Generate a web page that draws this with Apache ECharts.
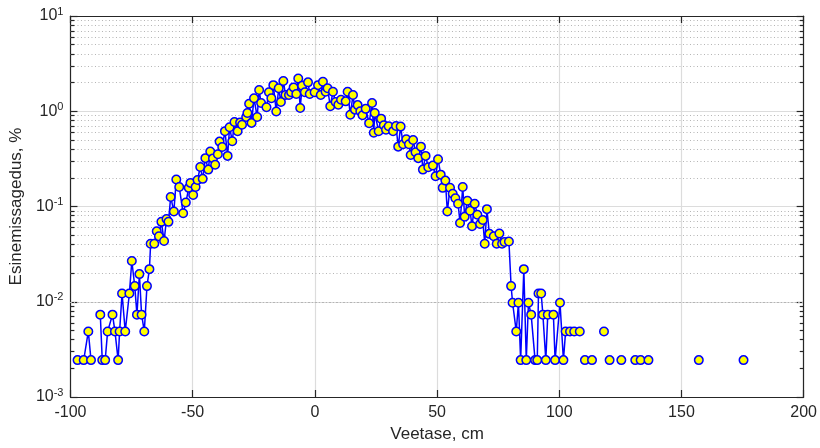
<!DOCTYPE html>
<html>
<head>
<meta charset="utf-8">
<script src="https://cdn.jsdelivr.net/npm/echarts@6/dist/echarts.min.js"></script>
<style>
  html, body { margin: 0; padding: 0; background: #fff; }
  #chart { width: 820px; height: 448px; }
</style>
</head>
<body>
<div id="chart"></div>
<script>
// water level bins (cm) and occurrence (%); null = empty bin, line breaks there
var levels = [
  -97.1, -94.6, -92.7, -91.6, -89.7, -87.8, -87.0, -85.8, -84.8, -82.8,
  -81.8, -80.5, -79.9, -78.9, -77.6, -75.9, -74.9, -73.7, -72.8, -71.8,
  -70.9, -69.8, -68.7, -67.7, -67.2, -65.7, -64.7, -63.8, -62.8, -61.7,
  -60.7, -59.9, -59.0, -57.7, -56.7, -55.5, -53.9, -52.8, -51.6, -50.9,
  -49.8, -48.8, -48.0, -46.9, -45.9, -44.8, -43.6, -42.8, -41.7, -40.8,
  -39.7, -39.0, -37.9, -36.8, -35.7, -34.9, -33.8, -32.9, -31.6, -30.6,
  -29.8, -28.1, -27.6, -26.9, -25.9, -24.9, -23.6, -22.8, -22.0, -19.8,
  -18.8, -17.8, -17.0, -15.8, -14.8, -13.9, -12.9, -12.0, -10.6, -9.7,
  -8.7, -7.6, -6.8, -6.0, -5.2, -4.1, -2.8, -2.1, -0.1, 1.3,
  2.4, 3.3, 4.4, 5.2, 6.3, 7.4, 8.5, 9.6, 10.7, 12.6,
  13.4, 14.5, 15.6, 16.4, 17.5, 18.6, 19.5, 20.8, 22.2, 23.4,
  24.1, 24.5, 26.1, 27.1, 28.2, 29.1, 30.2, 32.0, 33.2, 34.1,
  35.1, 36.1, 37.4, 38.5, 39.2, 40.2, 41.2, 42.3, 43.4, 44.2,
  45.3, 46.4, 48.3, 49.4, 50.4, 51.5, 52.3, 53.4, 54.2, 55.3,
  56.4, 57.5, 58.6, 59.4, 60.5, 61.3, 62.4, 63.5, 64.3, 65.4,
  66.5, 67.6, 68.7, 69.5, 70.4, 71.4, 73.2, 74.4, 75.5, 76.6,
  77.6, 79.4, 80.3, 80.9, 82.4, 83.3, 84.2, 85.5, 86.5, 87.4,
  88.5, 90.1, 91.0, 91.5, 92.6, 93.3, 94.5, 95.3, 97.6, 98.3,
  100.3, 101.7, 102.6, 104.4, 106.1, 108.4, 109.5, 110.5, 112.0, 113.4,
  116.0, 118.3, 119.5, 120.6, 123.0, 125.4, 128.0, 131.1, 132.2, 133.3,
  135.0, 136.5, 145.0, 157.1, 165.0, 175.4
];
var occurrence = [
  0.00244, 0.00244, 0.00488, 0.00244, null, 0.00732, 0.00244, 0.00244, 0.00488, 0.00732,
  0.00488, 0.00244, 0.00488, 0.0122, 0.00488, 0.0122, 0.0268, 0.0146, 0.00732, 0.0195,
  0.00732, 0.00488, 0.0146, 0.022, 0.0407, 0.0407, 0.055, 0.0488, 0.069, 0.0434,
  0.0738, 0.069, 0.126, 0.0888, 0.192, 0.16, 0.085, 0.11, 0.157, 0.177,
  0.132, 0.16, 0.19, 0.26, 0.195, 0.322, 0.244, 0.378, 0.32, 0.274,
  0.354, 0.48, 0.422, 0.618, 0.34, 0.68, 0.485, 0.77, 0.618, 0.76,
  0.72, 0.87, 0.96, 1.2, 0.755, 1.37, 0.87, 1.67, 1.22, 1.1,
  1.58, 1.37, 1.88, 0.995, 1.74, 1.25, 2.08, 1.48, 1.48, 1.58,
  1.78, 1.52, 2.21, 1.08, 1.85, 1.58, 2.01, 1.52, 1.58, 1.88,
  1.48, 2.04, 1.6, 1.74, 1.13, 1.6, 1.25, 1.17, 1.32, 1.27,
  1.6, 0.92, 1.48, 1.04, 1.16, 1.0, 0.906, 1.06, 0.75, 1.22,
  0.594, 0.957, 0.617, 0.836, 0.713, 0.64, 0.695, 0.618, 0.7, 0.425,
  0.69, 0.45, 0.507, 0.45, 0.348, 0.5, 0.371, 0.322, 0.425, 0.244,
  0.34, 0.258, 0.27, 0.208, 0.314, 0.216, 0.157, 0.187, 0.0888, 0.157,
  0.136, 0.122, 0.107, 0.0671, 0.16, 0.078, 0.115, 0.0902, 0.062, 0.107,
  0.082, 0.0656, 0.072, 0.0407, 0.0938, 0.0516, 0.0488, 0.0407, 0.052, 0.0407,
  0.0424, 0.043, 0.0146, 0.00976, 0.00488, 0.00976, 0.00244, 0.022, 0.00244, 0.00976,
  0.00732, 0.00244, 0.00244, 0.0122, 0.0122, 0.00732, 0.00244, 0.00732, 0.00732, 0.00244,
  0.00976, 0.00244, 0.00488, 0.00488, 0.00488, 0.00488, null, 0.00244, null, 0.00244,
  null, 0.00488, null, 0.00244, null, 0.00244, null, 0.00244, null, 0.00244,
  null, 0.00244, null, 0.00244, null, 0.00244
];

var xTicks = [-100, -50, 0, 50, 100, 150, 200];
var yDecades = [0.001, 0.01, 0.1, 1, 10];

var textColor = '#262626';
var fontName = 'Liberation Sans, Arial, sans-serif';

// minor log positions 2..9 in each decade
var minorVals = [];
for (var d = 0; d < yDecades.length - 1; d++) {
  for (var m = 2; m <= 9; m++) {
    minorVals.push(+(yDecades[d] * m).toPrecision(3));
  }
}

var gridLines = minorVals.map(function (v) { return { yAxis: v }; });
var tickLines = [];
minorVals.forEach(function (v) {
  tickLines.push([{ coord: [-100, v] }, { coord: [-98.4, v] }]);
  tickLines.push([{ coord: [200, v] }, { coord: [198.4, v] }]);
});

var points = levels.map(function (x, i) {
  return [x, occurrence[i] === null ? '-' : occurrence[i]];
});

function powLabel(v) {
  var e = Math.round(Math.log10(v));
  return '{b|10}{s|' + e + '}';
}

var chart = echarts.init(document.getElementById('chart'));
var option = {
  animation: false,
  backgroundColor: '#fff',
  textStyle: { fontFamily: fontName },
  grid: { left: 69, right: 13, top: 16, bottom: 46 },
  xAxis: [{
    type: 'value', min: -100, max: 200, interval: 50,
    name: 'Veetase, cm', nameLocation: 'middle', nameGap: 29,
    nameTextStyle: { color: textColor, fontSize: 17, fontFamily: fontName },
    axisLine: { onZero: false, lineStyle: { color: textColor, width: 1.2 } },
    axisTick: { inside: true, length: 7, lineStyle: { color: textColor, width: 1.2 } },
    axisLabel: { color: textColor, fontSize: 16, margin: 8, fontFamily: fontName },
    splitLine: { show: true, lineStyle: { color: '#dcdcdc', width: 1.2 } }
  }, {
    type: 'value', position: 'top', min: -100, max: 200, interval: 50,
    axisLine: { onZero: false, lineStyle: { color: textColor, width: 1.2 } },
    axisTick: { inside: true, length: 7, lineStyle: { color: textColor, width: 1.2 } },
    axisLabel: { show: false },
    splitLine: { show: false }
  }],
  yAxis: [{
    type: 'log', logBase: 10, min: 0.001, max: 10,
    name: 'Esinemissagedus, %', nameLocation: 'middle', nameGap: 34,
    nameTextStyle: { color: textColor, fontSize: 17, fontFamily: fontName },
    axisLine: { onZero: false, lineStyle: { color: textColor, width: 1.2 } },
    axisTick: { inside: true, length: 7, lineStyle: { color: textColor, width: 1.2 } },
    axisLabel: {
      margin: 7, formatter: powLabel,
      rich: {
        b: { color: textColor, fontSize: 16, fontFamily: fontName },
        s: { color: textColor, fontSize: 11, fontFamily: fontName, padding: [0, 0, 9, 0] }
      }
    },
    splitLine: { show: true, lineStyle: { color: '#dcdcdc', width: 1.2 } }
  }, {
    type: 'log', logBase: 10, min: 0.001, max: 10, position: 'right',
    axisLine: { onZero: false, lineStyle: { color: textColor, width: 1.2 } },
    axisTick: { inside: true, length: 7, lineStyle: { color: textColor, width: 1.2 } },
    axisLabel: { show: false },
    splitLine: { show: false }
  }],
  series: [{
    type: 'line',
    data: [],
    z: 1,
    silent: true,
    markLine: {
      silent: true, symbol: ['none', 'none'], label: { show: false },
      lineStyle: { color: '#b4b4b4', type: [1, 2.5], width: 1 },
      emphasis: { disabled: true },
      data: gridLines
    }
  }, {
    type: 'line',
    data: [],
    z: 1,
    silent: true,
    markLine: {
      silent: true, symbol: ['none', 'none'], label: { show: false },
      lineStyle: { color: textColor, type: 'solid', width: 1.2 },
      emphasis: { disabled: true },
      data: tickLines
    }
  }, {
    type: 'line',
    data: points,
    z: 5,
    connectNulls: false,
    showAllSymbol: true,
    symbol: 'circle',
    symbolSize: 8.5,
    lineStyle: { color: '#0000ff', width: 1.5 },
    itemStyle: { color: '#ffff00', borderColor: '#0000ff', borderWidth: 1.5 }
  }]
};
chart.setOption(option);
</script>
</body>
</html>
